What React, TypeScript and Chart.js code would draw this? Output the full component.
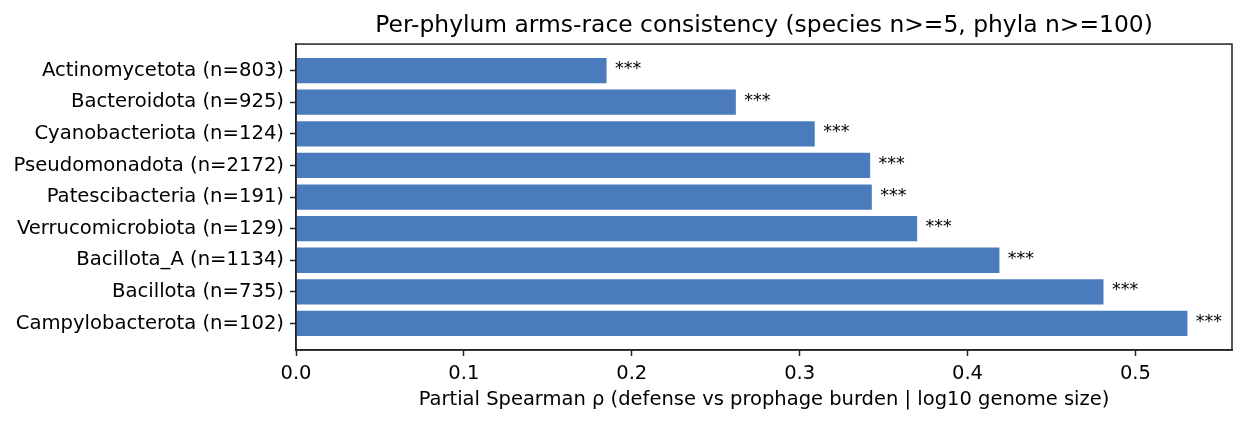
import { useEffect, useRef } from 'react';
import { Chart, registerables } from 'chart.js';

Chart.register(...registerables);

const PHYLA = [
  'Actinomycetota',
  'Bacteroidota',
  'Cyanobacteriota',
  'Pseudomonadota',
  'Patescibacteria',
  'Verrucomicrobiota',
  'Bacillota_A',
  'Bacillota',
  'Campylobacterota',
];
const N_SPECIES = [803, 925, 124, 2172, 191, 129, 1134, 735, 102];
const RHO = [0.185, 0.262, 0.309, 0.342, 0.343, 0.37, 0.419, 0.481, 0.531];
const STARS = ['***', '***', '***', '***', '***', '***', '***', '***', '***'];
const X_TICKS = [0, 0.1, 0.2, 0.3, 0.4, 0.5];

const FONT = '"DejaVu Sans", sans-serif';
const BAR = '#4a7bbc';
const INK = '#222';

const labels = PHYLA.map((p, i) => `${p} (n=${N_SPECIES[i]})`);

// box round the whole axes + significance stars next to each bar
const extras = {
  id: 'extras',
  afterDatasetsDraw(chart: Chart) {
    const { ctx, chartArea, scales } = chart;
    ctx.save();
    ctx.font = `17.5px ${FONT}`;
    ctx.fillStyle = '#000';
    ctx.textAlign = 'left';
    ctx.textBaseline = 'middle';
    RHO.forEach((v, i) => {
      ctx.fillText(STARS[i], scales.x.getPixelForValue(v + 0.005), scales.y.getPixelForValue(i) - 1);
    });
    ctx.strokeStyle = INK;
    ctx.lineWidth = 1.5;
    ctx.strokeRect(chartArea.left, chartArea.top, chartArea.right - chartArea.left, chartArea.bottom - chartArea.top);
    ctx.restore();
  },
};

export default function App() {
  const canvasRef = useRef<HTMLCanvasElement>(null);

  useEffect(() => {
    document.body.style.margin = '0';
    const canvas = canvasRef.current;
    if (!canvas) return;

    const xMax = Math.max(...RHO) * 1.05;
    const chart = new Chart(canvas, {
      type: 'bar',
      data: {
        datasets: [
          {
            data: RHO.map((v, i) => ({ x: v, y: i })),
            backgroundColor: BAR,
            borderWidth: 0,
            categoryPercentage: 1,
            barPercentage: 0.8,
          },
        ],
      },
      options: {
        indexAxis: 'y',
        animation: false,
        responsive: false,
        layout: { padding: { left: 0, right: 14, top: 0, bottom: 0 } },
        plugins: {
          legend: { display: false },
          tooltip: { enabled: false },
          title: {
            display: true,
            text: 'Per-phylum arms-race consistency (species n>=5, phyla n>=100)',
            color: '#000',
            fullSize: false,
            font: { family: FONT, size: 23.4, weight: 'normal' },
            padding: { top: 12, bottom: 4 },
          },
        },
        scales: {
          x: {
            type: 'linear',
            min: 0,
            max: xMax,
            afterFit: (s: any) => {
              s.height = 74;
            },
            afterBuildTicks: (s: any) => {
              s.ticks = X_TICKS.map((v) => ({ value: v }));
            },
            ticks: {
              color: '#000',
              font: { family: FONT, size: 19.5 },
              padding: 6,
              maxRotation: 0,
              callback: (v: any) => Number(v).toFixed(1),
            },
            grid: { drawOnChartArea: false, tickLength: 6, tickColor: INK, tickWidth: 1.5 },
            border: { color: INK, width: 1.5 },
            title: {
              display: true,
              text: 'Partial Spearman ρ (defense vs prophage burden | log10 genome size)',
              color: '#000',
              font: { family: FONT, size: 19.5 },
              padding: { top: 0, bottom: 12 },
            },
          },
          y: {
            type: 'linear',
            reverse: true,
            offset: false,
            min: -0.84,
            max: PHYLA.length - 1 + 0.84,
            afterFit: (s: any) => {
              s.width = 296;
            },
            afterBuildTicks: (s: any) => {
              s.ticks = PHYLA.map((_, i) => ({ value: i }));
            },
            ticks: {
              color: '#000',
              font: { family: FONT, size: 19.6 },
              padding: 6,
              callback: (v: any) => labels[v] ?? '',
            },
            grid: { offset: false, drawOnChartArea: false, tickLength: 6, tickColor: INK, tickWidth: 1.5 },
            border: { color: INK, width: 1.5 },
          },
        },
      },
      plugins: [extras],
    });

    return () => {
      chart.destroy();
    };
  }, []);

  return (
    <div style={{ width: 1246, height: 424, background: '#fff' }}>
      <canvas ref={canvasRef} width={1246} height={424} />
    </div>
  );
}
